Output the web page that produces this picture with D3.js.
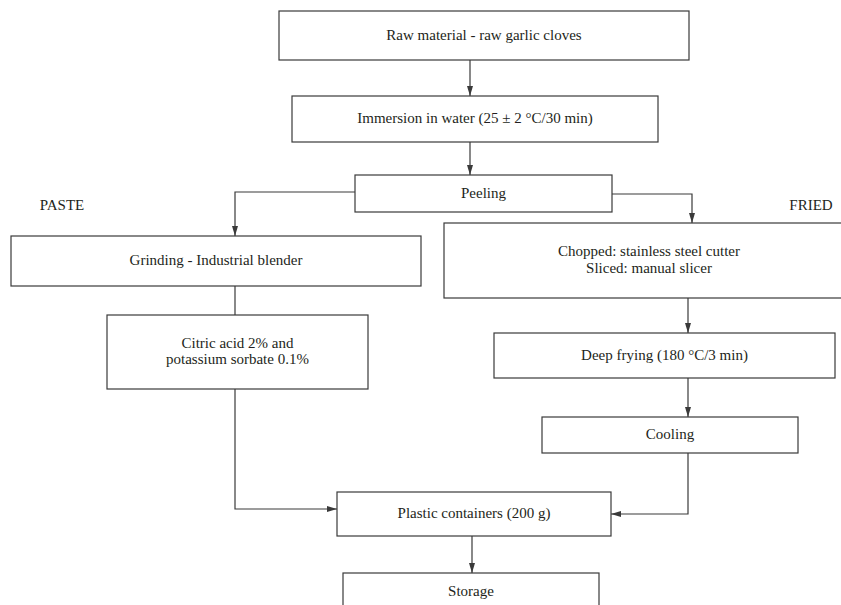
<!DOCTYPE html>
<html>
<head>
<meta charset="utf-8">
<script src="https://cdn.jsdelivr.net/npm/d3@7"></script>
<style>
  html, body { margin: 0; padding: 0; background: #fff; }
</style>
</head>
<body>
<div id="paper"></div>
<script>
// step labels (one array entry per text line)
const steps = [
  { id: "raw", lines: ["Raw material - raw garlic cloves"] },
  { id: "immersion", lines: ["Immersion in water (25 \u00b1 2 \u00b0C/30 min)"] },
  { id: "peeling", lines: ["Peeling"] },
  { id: "grinding", lines: ["Grinding - Industrial blender"] },
  { id: "citric", lines: ["Citric acid 2% and", "potassium sorbate 0.1%"] },
  { id: "chopped", lines: ["Chopped: stainless steel cutter", "Sliced: manual slicer"] },
  { id: "frying", lines: ["Deep frying (180 \u00b0C/3 min)"] },
  { id: "cooling", lines: ["Cooling"] },
  { id: "plastic", lines: ["Plastic containers (200 g)"] },
  { id: "storage", lines: ["Storage"] }
];

const branchLabels = ["PASTE", "FRIED"];

// links: from -> to, with arrow or not
const links = [
  { source: "raw", target: "immersion", arrow: true },
  { source: "immersion", target: "peeling", arrow: true },
  { source: "peeling", target: "grinding", arrow: true },
  { source: "peeling", target: "chopped", arrow: true },
  { source: "grinding", target: "citric", arrow: false },
  { source: "citric", target: "plastic", arrow: true },
  { source: "chopped", target: "frying", arrow: true },
  { source: "frying", target: "cooling", arrow: true },
  { source: "cooling", target: "plastic", arrow: true },
  { source: "plastic", target: "storage", arrow: true }
];

// layout of boxes (page pixels)
const layout = {
  raw:       { x0: 279, x1: 689, y0: 11,  y1: 60 },
  immersion: { x0: 292, x1: 658, y0: 96,  y1: 142 },
  peeling:   { x0: 355, x1: 612, y0: 175, y1: 212 },
  grinding:  { x0: 11,  x1: 421, y0: 236, y1: 286 },
  citric:    { x0: 107, x1: 368, y0: 315, y1: 389 },
  chopped:   { x0: 444, x1: 854, y0: 223, y1: 298 },
  frying:    { x0: 494, x1: 835, y0: 333, y1: 378 },
  cooling:   { x0: 542, x1: 798, y0: 417, y1: 453 },
  plastic:   { x0: 337, x1: 611, y0: 492, y1: 536 },
  storage:   { x0: 343, x1: 599, y0: 573, y1: 610 }
};
const labelPos = [{ x: 62, y: 205 }, { x: 811, y: 205 }];

// how each link is routed
const routes = {
  "raw-immersion":     { kind: "down", x: 470 },
  "immersion-peeling": { kind: "down", x: 470 },
  "peeling-grinding":  { kind: "side-down", y: 192, x: 235 },
  "peeling-chopped":   { kind: "side-down", y: 194, x: 692 },
  "grinding-citric":   { kind: "down", x: 235 },
  "citric-plastic":    { kind: "down-side", x: 235, y: 509 },
  "chopped-frying":    { kind: "down", x: 688 },
  "frying-cooling":    { kind: "down", x: 688 },
  "cooling-plastic":   { kind: "down-side", x: 688, y: 514 },
  "plastic-storage":   { kind: "down", x: 472 }
};

const ink = "#231f20";
const lineCol = "#3a3a3a";
const font = "'Liberation Serif', 'Times New Roman', serif";

const svg = d3.select("#paper")
  .append("svg")
  .attr("width", 841)
  .attr("height", 605);

svg.append("defs")
  .append("marker")
  .attr("id", "arrow")
  .attr("markerUnits", "userSpaceOnUse")
  .attr("viewBox", "0 0 10 6")
  .attr("refX", 10)
  .attr("refY", 3)
  .attr("markerWidth", 10)
  .attr("markerHeight", 6)
  .attr("orient", "auto")
  .append("path")
  .attr("d", "M0,0L10,3L0,6Z")
  .attr("fill", lineCol);

function linkPoints(d) {
  const s = layout[d.source], t = layout[d.target];
  const r = routes[d.source + "-" + d.target];
  if (r.kind == "down") return [[r.x, s.y1], [r.x, t.y0]];
  if (r.kind == "side-down") {
    const sx = r.x < s.x0 ? s.x0 : s.x1;
    return [[sx, r.y], [r.x, r.y], [r.x, t.y0]];
  }
  // down then sideways into the target's side
  const tx = r.x < t.x0 ? t.x0 : t.x1;
  return [[r.x, s.y1], [r.x, r.y], [tx, r.y]];
}

const line = d3.line();

svg.selectAll(".link")
  .data(links)
  .join("path")
  .attr("class", "link")
  .attr("d", d => line(linkPoints(d)))
  .attr("fill", "none")
  .attr("stroke", lineCol)
  .attr("stroke-width", 1.2)
  .attr("marker-end", d => d.arrow ? "url(#arrow)" : null);

svg.selectAll(".box")
  .data(steps)
  .join("rect")
  .attr("class", "box")
  .attr("x", d => layout[d.id].x0)
  .attr("y", d => layout[d.id].y0)
  .attr("width", d => layout[d.id].x1 - layout[d.id].x0)
  .attr("height", d => layout[d.id].y1 - layout[d.id].y0)
  .attr("fill", "#fff")
  .attr("stroke", lineCol)
  .attr("stroke-width", 1.2);

const lh = 16.5;
svg.selectAll(".box_text")
  .data(steps)
  .join("text")
  .attr("class", "box_text")
  .attr("font-family", font)
  .attr("font-size", "15px")
  .attr("fill", ink)
  .attr("text-anchor", "middle")
  .each(function(d) {
    const b = layout[d.id];
    const cx = (b.x0 + b.x1) / 2;
    const cy = (b.y0 + b.y1) / 2 - (d.lines.length - 1) * lh / 2 - 1;
    d3.select(this).selectAll("tspan")
      .data(d.lines)
      .join("tspan")
      .attr("x", cx)
      .attr("y", (l, i) => cy + i * lh)
      .attr("dominant-baseline", "central")
      .text(l => l);
  });

svg.selectAll(".branch")
  .data(branchLabels)
  .join("text")
  .attr("class", "branch")
  .attr("x", (d, i) => labelPos[i].x)
  .attr("y", (d, i) => labelPos[i].y)
  .attr("font-family", font)
  .attr("font-size", "15px")
  .attr("fill", ink)
  .attr("text-anchor", "middle")
  .attr("dominant-baseline", "central")
  .text(d => d);
</script>
</body>
</html>
